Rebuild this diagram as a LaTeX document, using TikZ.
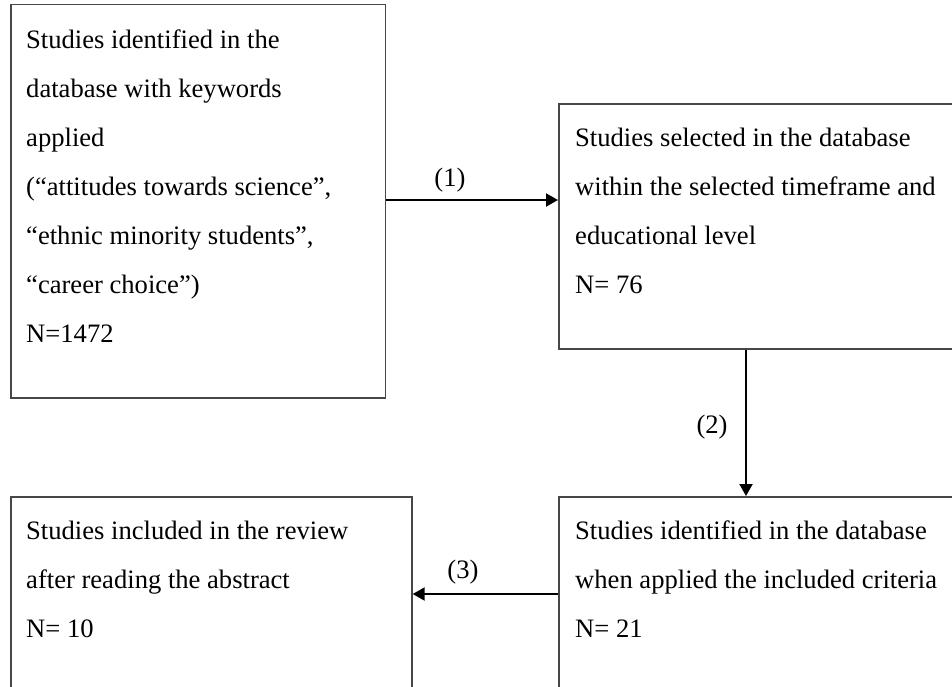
\documentclass[tikz,border=0pt]{standalone}
\usepackage{fontspec}
\setmainfont{Liberation Serif}
\usetikzlibrary{arrows.meta}
\begin{document}
\begin{tikzpicture}[x=1pt,y=-1pt,
  boxline/.style={draw=black!72, line width=1.7pt, inner sep=0pt, anchor=north west},
  boxtext/.style={anchor=base west, inner sep=0pt, font=\fontsize{26.6}{49}\selectfont},
  conn/.style={draw=black, line width=2pt, -{Triangle[length=12pt,width=13pt]}},
  lab/.style={inner sep=0pt, font=\fontsize{26.6}{32}\selectfont}]
\useasboundingbox (0,0) rectangle (952,686);
\clip (0,0) rectangle (952,686);
% boxes
\node[boxline, minimum width=374.5pt, minimum height=393.5pt] (b1) at (10,3.5) {};
\node[boxline, minimum width=420pt, minimum height=245pt] (b2) at (558,103) {};
\node[boxline, minimum width=401pt, minimum height=220pt] (b3) at (10,496) {};
\node[boxline, minimum width=420pt, minimum height=220pt] (b4) at (558,496) {};
% texts
\node[boxtext] (t1) at (26,48) {\begin{tabular}[t]{@{}l@{}}Studies identified in the\\ database with keywords\\ applied\\ (“attitudes towards science”,\\ “ethnic minority students”,\\ “career choice”)\\ N=1472\end{tabular}};
\node[boxtext] (t2) at (575,146) {\begin{tabular}[t]{@{}l@{}}Studies selected in the database\\ within the selected timeframe and\\ educational level\\ N= 76\end{tabular}};
\node[boxtext] (t3) at (26,539) {\begin{tabular}[t]{@{}l@{}}Studies included in the review\\ after reading the abstract\\ N= 10\end{tabular}};
\node[boxtext] (t4) at (575,539) {\begin{tabular}[t]{@{}l@{}}Studies identified in the database\\ when applied the included criteria\\ N= 21\end{tabular}};
% connectors
\coordinate (a1) at (0,200);
\coordinate (a2) at (746,0);
\coordinate (a3) at (0,594);
\draw[conn] (b1.east |- a1) -- (b2.west |- a1);
\draw[conn] (a2 |- b2.south) -- (a2 |- b4.north);
\draw[conn] (b4.west |- a3) -- (b3.east |- a3);
% labels
\node[lab] (l1) at (450,180) {(1)};
\node[lab] (l2) at (712,427) {(2)};
\node[lab] (l3) at (463,572) {(3)};
\end{tikzpicture}
\end{document}
